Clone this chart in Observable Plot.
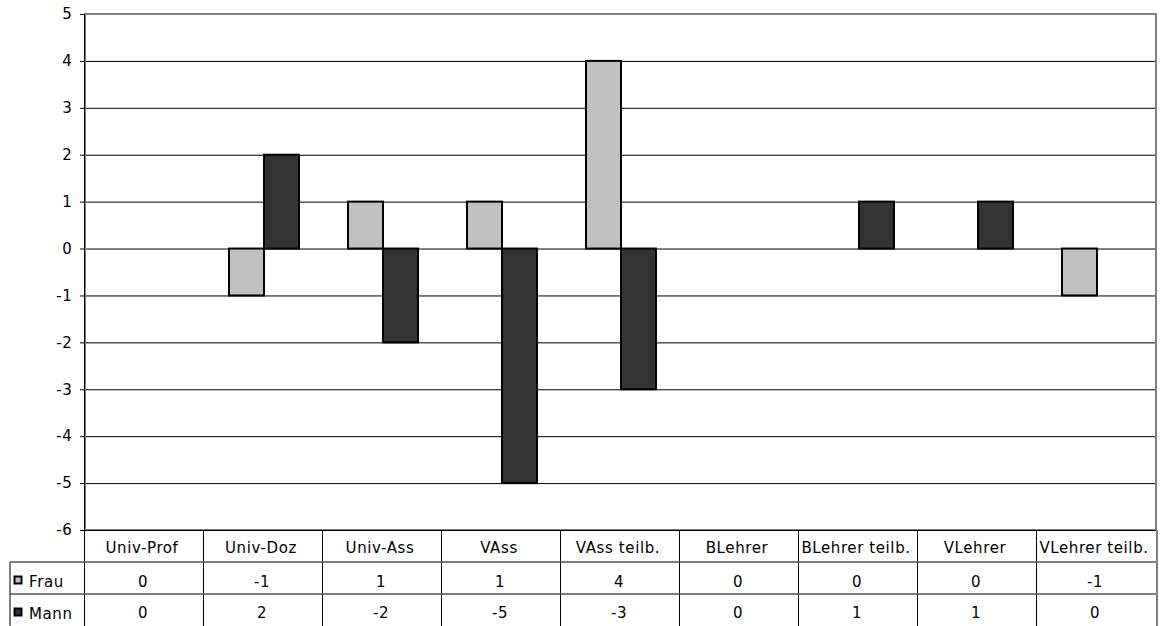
<!DOCTYPE html>
<html><head><meta charset="utf-8">
<script src="https://cdn.jsdelivr.net/npm/d3@7"></script>
<script src="https://cdn.jsdelivr.net/npm/@observablehq/plot@0.6"></script>
<style>
body{margin:0;background:#fff}
#chart svg text{font-size:15px;font-family:'DejaVu Sans', Verdana, sans-serif;letter-spacing:0.6px;}
</style>
</head><body><div id="chart"></div>
<script>
const categories = ["Univ-Prof","Univ-Doz","Univ-Ass","VAss","VAss teilb.","BLehrer","BLehrer teilb.","VLehrer","VLehrer teilb."];
const series = ["Frau","Mann"];
const frau = [0,-1,1,1,4,0,0,0,-1];
const mann = [0,2,-2,-5,-3,0,1,1,0];
const yTicks = [5,4,3,2,1,0,-1,-2,-3,-4,-5,-6];
const colors = ["#c0c0c0","#333333"];

const data = categories.flatMap((c,i)=>[
  {category:c, series:"Frau", value:frau[i]},
  {category:c, series:"Mann", value:mann[i]}
]);
const catRows = categories.map(c=>({category:c}));

const W=1167, H=626, mL=82, mR=9, mT=14, mB=96;
const font = "'DejaVu Sans', Verdana, sans-serif";

const plot = Plot.plot({
  width: W, height: H, marginLeft: mL, marginRight: mR, marginTop: mT, marginBottom: mB,
  style: {fontFamily: font, fontSize: "15px", color: "#000", background: "#fff", overflow: "visible"},
  fx: {domain: categories, paddingInner: 0, paddingOuter: 0, axis: null, label: null},
  x: {domain: series, paddingInner: 0, paddingOuter: 0.7, axis: null},
  y: {domain: [-6,5], ticks: yTicks, tickSize: 5, tickPadding: 8, label: null, tickFormat: d=>String(d)},
  color: {domain: series, range: colors},
  marks: [
    Plot.ruleY(yTicks, {stroke: "#000", strokeWidth: 1}),
    Plot.barY(data, {fx: "category", x: "series", y: "value", fill: "series", stroke: "#000", strokeWidth: 2, filter: d => d.value !== 0}),
    Plot.text(catRows, {fx: "category", text: "category", frameAnchor: "bottom", dy: 22, dx: -3, fill: "#000", fontSize: 15}),
    Plot.text(data, {fx: "category", filter: d => d.series === "Frau", text: d => String(d.value), frameAnchor: "bottom", dy: 56, dx: -2, fill: "#000", fontSize: 15}),
    Plot.text(data, {fx: "category", filter: d => d.series === "Mann", text: d => String(d.value), frameAnchor: "bottom", dy: 87, dx: -2, fill: "#000", fontSize: 15})
  ]
});
document.getElementById("chart").appendChild(plot);

// Frame and data-table grid, positioned from the plot's own scales
const svg = d3.select(plot.tagName.toLowerCase() === "svg" ? plot : plot.querySelector("svg"));
const fxS = plot.scale("fx"), yS = plot.scale("y");
const fxLeft = (c, i) => (fxS.apply ? fxS.apply(c) : fxS.range[0] + i * fxS.step);
const yPos = v => yS.apply(v);
const x0 = fxLeft(categories[0], 0);
const step = fxS.step ?? fxS.bandwidth;
const x1 = x0 + step * categories.length;
const yTop = yPos(5), yBot = yPos(-6);
const row1 = yBot + 32, row2 = yBot + 64;
const tableLeft = 10;

const g = svg.append("g").attr("text-anchor", "start");
// plot area border
g.append("rect").attr("x", x0).attr("y", yTop).attr("width", x1 - x0).attr("height", yBot - yTop)
  .attr("fill", "none").attr("stroke", "#808080").attr("stroke-width", 2);
g.append("line").attr("x1", x0 - 0.5).attr("x2", x0 - 0.5).attr("y1", yTop).attr("y2", yBot)
  .attr("stroke", "#000").attr("stroke-width", 1);
g.append("line").attr("x1", x0 - 5).attr("x2", x1).attr("y1", yBot + 0.5).attr("y2", yBot + 0.5)
  .attr("stroke", "#000").attr("stroke-width", 1);
// table verticals
categories.forEach((c, i) => {
  const x = fxLeft(c, i);
  g.append("line").attr("x1", x - 0.5).attr("x2", x - 0.5).attr("y1", yBot).attr("y2", H)
    .attr("stroke", "#000").attr("stroke-width", 1);
});
g.append("line").attr("x1", x1 + 1).attr("x2", x1 + 1).attr("y1", yBot).attr("y2", H)
  .attr("stroke", "#808080").attr("stroke-width", 2);
g.append("line").attr("x1", tableLeft).attr("x2", tableLeft).attr("y1", row1).attr("y2", H)
  .attr("stroke", "#000").attr("stroke-width", 1);
[row1, row2].forEach(y => {
  g.append("line").attr("x1", tableLeft).attr("x2", x1).attr("y1", y).attr("y2", y)
    .attr("stroke", "#555").attr("stroke-width", 1.5);
});
// legend keys in the table
series.forEach((s, i) => {
  const cy = (i === 0 ? (row1 + row2) / 2 : (row2 + H) / 2) + 3;
  g.append("rect").attr("x", 14.5).attr("y", cy - 4.5).attr("width", 7).attr("height", 7)
    .attr("fill", colors[i]).attr("stroke", "#000").attr("stroke-width", 2);
  g.append("text").attr("x", 29).attr("y", cy + 1).attr("dy", "0.35em")
    .attr("text-anchor", "start").attr("fill", "#000").text(s);
});
</script>
</body></html>
